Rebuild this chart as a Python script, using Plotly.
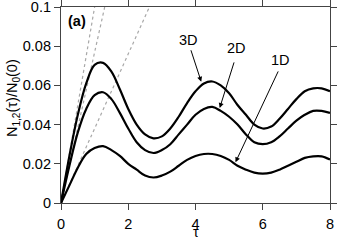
import plotly.graph_objects as go

tau = [0, 0.25, 0.5, 0.75, 1.0, 1.25, 1.5, 1.75, 2.0, 2.25, 2.5, 2.75, 3.0, 3.25, 3.5, 3.75,
       4.0, 4.25, 4.5, 4.75, 5.0, 5.25, 5.5, 5.75, 6.0, 6.25, 6.5, 6.75, 7.0, 7.25, 7.5, 7.75, 8.0]

n_3d = [0, 0.024, 0.045, 0.061, 0.0705, 0.0715, 0.067, 0.058, 0.048, 0.040, 0.035, 0.033, 0.034,
        0.038, 0.044, 0.051, 0.057, 0.061, 0.062, 0.060, 0.056, 0.050, 0.045, 0.040, 0.038, 0.039,
        0.043, 0.048, 0.053, 0.057, 0.0585, 0.0585, 0.057]

n_2d = [0, 0.019, 0.036, 0.048, 0.055, 0.0565, 0.053, 0.046, 0.038, 0.031, 0.027, 0.0255, 0.027,
        0.030, 0.035, 0.040, 0.045, 0.048, 0.049, 0.047, 0.044, 0.040, 0.035, 0.031, 0.030, 0.031,
        0.034, 0.038, 0.042, 0.045, 0.047, 0.047, 0.046]

n_1d = [0, 0.009, 0.018, 0.025, 0.028, 0.029, 0.027, 0.024, 0.020, 0.017, 0.014, 0.013, 0.014,
        0.016, 0.019, 0.022, 0.024, 0.025, 0.025, 0.024, 0.022, 0.019, 0.017, 0.0155, 0.015, 0.0155,
        0.017, 0.019, 0.021, 0.023, 0.0238, 0.0238, 0.0222]

# initial-slope guide lines: (tau where each reaches 0.1)
guide_tau_end = [1.0, 1.3, 2.63]
guide_y_end = [0.1, 0.1, 0.1]

labels = ["3D", "2D", "1D"]
label_pos = [(3.79, 0.0833), (5.22, 0.079), (6.54, 0.073)]
arrow_tail = [(3.85, 0.0787), (5.16, 0.0725), (6.48, 0.0679)]
arrow_tip = [(4.17, 0.0619), (4.72, 0.0485), (5.19, 0.0208)]

FONT = "Liberation Sans, Arial, sans-serif"
FS = 14.5

fig = go.Figure()
for te, ye in zip(guide_tau_end, guide_y_end):
    fig.add_trace(go.Scatter(x=[0, te], y=[0, ye], mode="lines",
                             line=dict(color="#a8a8a8", width=1.2, dash="dot"),
                             showlegend=False, hoverinfo="skip"))
for ys in (n_3d, n_2d, n_1d):
    fig.add_trace(go.Scatter(x=tau, y=ys, mode="lines",
                             line=dict(color="black", width=2.2, shape="spline", smoothing=1.0),
                             showlegend=False))

for lab, (lx, ly), (ax_, ay_), (tx, ty) in zip(labels, label_pos, arrow_tail, arrow_tip):
    fig.add_annotation(x=lx, y=ly, text=lab, showarrow=False,
                       xanchor="center", yanchor="middle",
                       font=dict(size=FS, color="black", family=FONT))
    fig.add_annotation(x=tx, y=ty, ax=ax_, ay=ay_, axref="x", ayref="y", text="",
                       showarrow=True, arrowhead=2, arrowsize=1, arrowwidth=1, arrowcolor="black")

fig.add_annotation(x=0.018, y=0.98, xref="paper", yref="paper", text="<b>(a)</b>",
                   showarrow=False, xanchor="left", yanchor="top",
                   font=dict(size=FS, color="black", family=FONT))

# axis titles
fig.add_annotation(x=-0.178, y=0.536, xref="paper", yref="paper",
                   text="N<sub>1,2</sub>(τ)/N<sub>0</sub>(0)", textangle=-90,
                   xanchor="center", yanchor="middle",
                   showarrow=False, font=dict(size=FS, color="black", family=FONT))
fig.add_annotation(x=0.5, y=-0.15, xref="paper", yref="paper", text="τ",
                   xanchor="center", yanchor="middle",
                   showarrow=False, font=dict(size=FS, color="black", family=FONT))

fig.update_layout(
    width=338, height=240,
    margin=dict(l=61, r=8, t=7, b=37),
    paper_bgcolor="white", plot_bgcolor="white",
    font=dict(family=FONT, size=FS, color="black"),
    xaxis=dict(range=[0, 8], tickvals=[0, 2, 4, 6, 8], ticks="outside", ticklen=6,
               showline=True, linecolor="#444", linewidth=1.2, mirror="ticks", tickcolor="#444",
               showgrid=False, zeroline=False, automargin=False, ticklabelstandoff=1,
               ticklabeloverflow="allow"),
    yaxis=dict(range=[0, 0.1], tickvals=[0, 0.02, 0.04, 0.06, 0.08, 0.1],
               ticktext=["0", "0.02", "0.04", "0.06", "0.08", "0.1"],
               ticks="outside", ticklen=6,
               showline=True, linecolor="#444", linewidth=1.2, mirror="ticks", tickcolor="#444",
               showgrid=False, zeroline=False, automargin=False, ticklabeloverflow="allow"),
)

fig.write_html("out.html", config={"displayModeBar": False},
               post_script="document.body.style.margin='0';")
